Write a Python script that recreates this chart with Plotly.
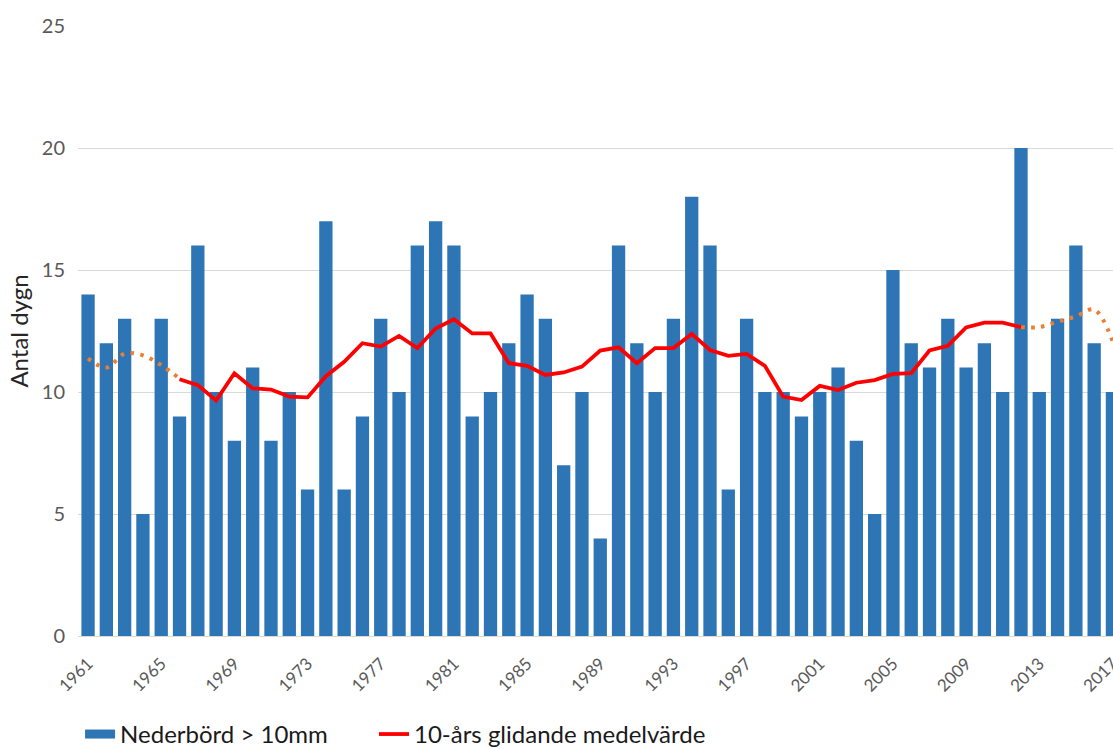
import plotly.graph_objects as go

years = list(range(1961, 2018))
nederbord = [14, 12, 13, 5, 13, 9, 16, 10, 8, 11, 8, 10, 6, 17, 6, 9, 13, 10, 16, 17,
             16, 9, 10, 12, 14, 13, 7, 10, 4, 16, 12, 10, 13, 18, 16, 6, 13, 10, 10, 9,
             10, 11, 8, 5, 15, 12, 11, 13, 11, 12, 10, 20, 10, 13, 16, 12, 10]

ma_years = list(range(1966, 2013))
ma_values = [10.52, 10.28, 9.65, 10.77, 10.15, 10.1, 9.81, 9.78, 10.65, 11.24,
             12.0, 11.86, 12.3, 11.8, 12.6, 12.98, 12.4, 12.4, 11.18, 11.07,
             10.7, 10.8, 11.04, 11.7, 11.83, 11.18, 11.8, 11.8, 12.38, 11.72,
             11.48, 11.56, 11.07, 9.81, 9.67, 10.25, 10.08, 10.38, 10.49, 10.74,
             10.77, 11.7, 11.89, 12.65, 12.84, 12.84, 12.66]

start_years = [1961, 1962, 1963, 1964, 1965, 1966]
start_values = [11.38, 11.0, 11.57, 11.5, 11.1, 10.55]

end_years = [2012, 2013, 2014, 2015, 2016, 2017]
end_values = [12.66, 12.66, 12.88, 13.1, 13.38, 12.1]

tick_years = list(range(1961, 2018, 4))

BLUE = "#2E75B6"
RED = "#FF0000"
ORANGE = "#ED7D31"
FONT = "Lato"

fig = go.Figure()
fig.add_trace(go.Bar(x=years, y=nederbord, marker=dict(color=BLUE, line=dict(width=0)),
                     showlegend=False, name="Nederbörd > 10mm"))
fig.add_trace(go.Scatter(x=start_years, y=start_values, mode="lines",
                         line=dict(color=ORANGE, width=4, dash="3.5px,6.5px", shape="spline"),
                         showlegend=False))
fig.add_trace(go.Scatter(x=end_years, y=end_values, mode="lines",
                         line=dict(color=ORANGE, width=4, dash="3.5px,6.5px", shape="spline"),
                         showlegend=False))
fig.add_trace(go.Scatter(x=ma_years, y=ma_values, mode="lines",
                         line=dict(color=RED, width=3.8), showlegend=False))
# legend entries
fig.add_trace(go.Scatter(x=[None], y=[None], mode="lines", name="Nederbörd > 10mm",
                         line=dict(color=BLUE, width=9), legend="legend"))
fig.add_trace(go.Scatter(x=[None], y=[None], mode="lines", name="10-års glidande medelvärde",
                         line=dict(color=RED, width=3.8), legend="legend2"))

legend_common = dict(orientation="h", y=-0.1245, yanchor="top", xanchor="left",
                     font=dict(size=24, color="#1a1a1a", family=FONT),
                     bgcolor="rgba(0,0,0,0)")

fig.update_layout(
    width=1113, height=749,
    margin=dict(l=78, r=0, t=26, b=113, autoexpand=False),
    plot_bgcolor="white", paper_bgcolor="white",
    bargap=0.273,
    font=dict(family=FONT, color="#595959"),
    legend=dict(x=0.002, **legend_common),
    legend2=dict(x=0.286, **legend_common),
)
fig.update_xaxes(range=[1960.45, 2017.03], tickmode="array", tickvals=tick_years,
                 ticktext=[str(y) for y in tick_years], tickangle=-45,
                 tickfont=dict(size=17, color="#595959"), showgrid=False,
                 ticklabelstandoff=10, ticklabeloverflow="allow",
                 showline=True, linecolor="#d9d9d9", linewidth=1, ticks="", zeroline=False)
fig.update_yaxes(range=[0, 25], tickvals=[0, 5, 10, 15, 20, 25], showgrid=True,
                 gridcolor="#d9d9d9", gridwidth=1, zeroline=False,
                 tickfont=dict(size=20, color="#595959"), ticklabelstandoff=12,
                 title=dict(text="Antal dygn", font=dict(size=24, color="#262626"), standoff=6))

fig.write_html("out.html", config={"displayModeBar": False},
               post_script="document.body.style.margin='0';document.body.style.overflow='hidden';")
